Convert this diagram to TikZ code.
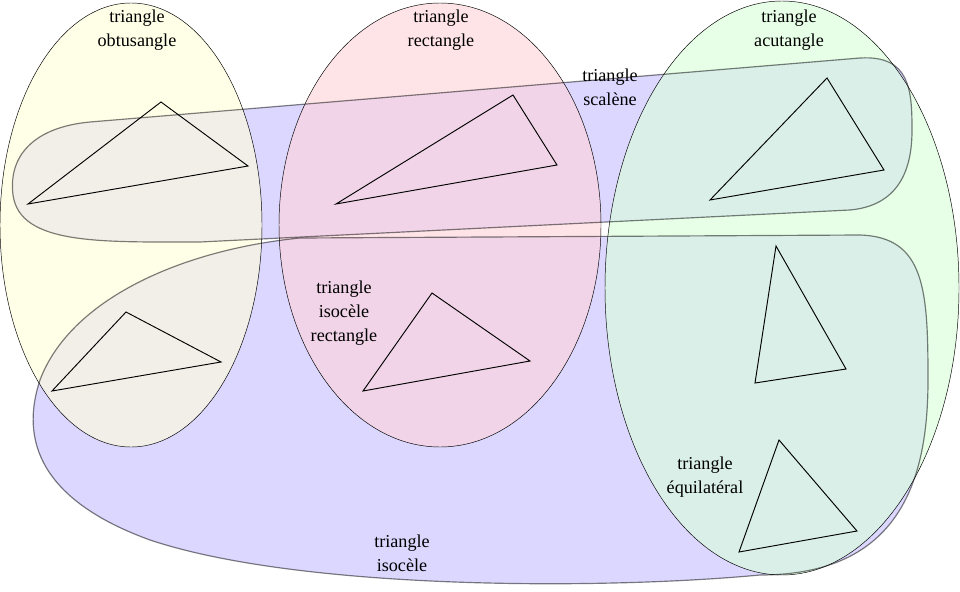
\documentclass[tikz,border=0pt]{standalone}
\usepackage{fontspec}
\setmainfont{Liberation Serif}
\definecolor{obtuscol}{RGB}{255,255,215}
\definecolor{rectcol}{RGB}{255,210,215}
\definecolor{acutcol}{RGB}{215,255,215}
\definecolor{isocol}{RGB}{220,215,255}
\begin{document}
\begin{tikzpicture}[
    x=0.03cm, y=-0.03cm,
    blob/.style={draw=black, draw opacity=0.5, line width=1pt},
    tri/.style={draw=black, line width=0.8pt, line join=miter},
    label/.style={font=\fontsize{15.5}{20.5}\selectfont, align=center, text=black}
]
\useasboundingbox (0,0) rectangle (960,591);

% blob fills
\fill[isocol] (90,122) -- (860,58) .. controls (910,55) and (912,90) .. (912,130)
    .. controls (912,160) and (905,205) .. (850,210) -- (200,242)
    .. controls (100,242) and (20,245) .. (13,195) .. controls (8,155) and (35,127) .. (90,122) -- cycle;
\fill[isocol] (300,238) -- (860,235) .. controls (925,237) and (928,290) .. (928,380)
    .. controls (928,480) and (900,575) .. (760,575) .. controls (600,590) and (300,590) .. (150,540)
    .. controls (40,500) and (20,440) .. (40,380) .. controls (70,300) and (180,250) .. (300,238) -- cycle;

% families
\fill[obtuscol, fill opacity=0.6] (131,225) ellipse [x radius=131, y radius=222];
\fill[rectcol, fill opacity=0.6] (440,225) ellipse [x radius=161, y radius=222];
\fill[acutcol, fill opacity=0.6] (782,288) ellipse [x radius=177, y radius=287];

% blob outlines
\draw[blob] (90,122) -- (860,58) .. controls (910,55) and (912,90) .. (912,130)
    .. controls (912,160) and (905,205) .. (850,210) -- (200,242)
    .. controls (100,242) and (20,245) .. (13,195) .. controls (8,155) and (35,127) .. (90,122) -- cycle;
\draw[blob] (300,238) -- (860,235) .. controls (925,237) and (928,290) .. (928,380)
    .. controls (928,480) and (900,575) .. (760,575) .. controls (600,590) and (300,590) .. (150,540)
    .. controls (40,500) and (20,440) .. (40,380) .. controls (70,300) and (180,250) .. (300,238) -- cycle;

\draw (131,225) ellipse [x radius=131, y radius=222];
\draw (440,225) ellipse [x radius=161, y radius=222];
\draw (782,288) ellipse [x radius=177, y radius=287];

% triangles
\draw[tri] (28,204) -- (161,102) -- (248,166) -- cycle;
\draw[tri] (336,204) -- (513,95) -- (557,165) -- cycle;
\draw[tri] (710,200) -- (827,78) -- (884,170) -- cycle;
\draw[tri] (52,391) -- (126,312) -- (221,362) -- cycle;
\draw[tri] (363,391) -- (432,293) -- (530,361) -- cycle;
\draw[tri] (755,383) -- (776,246) -- (846,369) -- cycle;
\draw[tri] (739,552) -- (779,440) -- (857,531) -- cycle;

% labels
\node[label] (obtus) at (137,30) {triangle\\obtusangle};
\node[label] (rect) at (441,30) {triangle\\rectangle};
\node[label] (acut) at (789,30) {triangle\\acutangle};
\node[label] (scal) at (610,87) {triangle\\scalène};
\node[label] (isorect) at (344,313) {triangle\\isocèle\\rectangle};
\node[label] (equi) at (705,477) {triangle\\équilatéral};
\node[label] (iso) at (402,553) {triangle\\isocèle};
\end{tikzpicture}
\end{document}
